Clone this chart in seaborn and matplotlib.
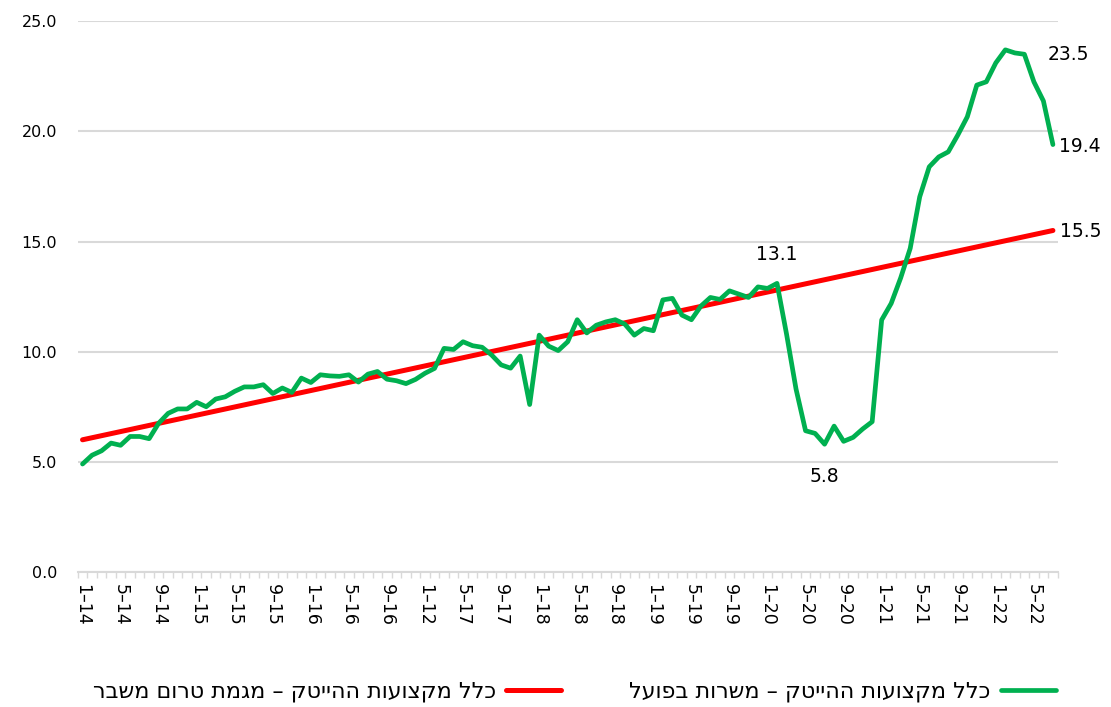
import matplotlib
matplotlib.use('Agg')
import matplotlib.pyplot as plt
import seaborn as sns
import pandas as pd
from matplotlib.ticker import FixedLocator

# Style
sns.set_theme(style='white')
plt.rcParams['font.family'] = ['DejaVu Sans']

# Monthly categories: 1–14 .. 7–22
months = [f'{m}–{y}' for y in range(14, 23) for m in range(1, 13)][:103]

# High-tech jobs, actual (thousands)
actual_jobs = [
    4.9, 5.3, 5.5, 5.85, 5.75, 6.15, 6.15, 6.05, 6.75, 7.2,
    7.4, 7.4, 7.7, 7.5, 7.85, 7.95, 8.2, 8.4, 8.4, 8.5,
    8.1, 8.35, 8.15, 8.8, 8.6, 8.95, 8.9, 8.88, 8.95, 8.62,
    8.98, 9.1, 8.75, 8.68, 8.55, 8.74, 9.02, 9.24, 10.15, 10.1,
    10.45, 10.27, 10.2, 9.85, 9.4, 9.25, 9.8, 7.6, 10.75, 10.25,
    10.05, 10.45, 11.45, 10.85, 11.2, 11.35, 11.45, 11.25, 10.75, 11.05,
    10.95, 12.35, 12.42, 11.66, 11.45, 12.07, 12.46, 12.37, 12.76, 12.61,
    12.46, 12.94, 12.87, 13.1, 10.8, 8.3, 6.41, 6.29, 5.8, 6.62,
    5.93, 6.11, 6.49, 6.82, 11.44, 12.19, 13.35, 14.69, 17.03, 18.39,
    18.84, 19.07, 19.83, 20.66, 22.1, 22.25, 23.11, 23.7, 23.56, 23.5,
    22.25, 21.38, 19.4,
]

# Pre-crisis trend (straight line between its end points)
trend_months = ['1–14', '7–22']
trend_values = [6.0, 15.5]

# x tick labels, every 4 months (as printed in the source)
tick_labels = ['1–14', '5–14', '9–14', '1–15', '5–15', '9–15', '1–16', '5–16',
               '9–16', '1–12', '5–17', '9–17', '1–18', '5–18', '9–18', '1–19',
               '5–19', '9–19', '1–20', '5–20', '9–20', '1–21', '5–21', '9–21',
               '1–22', '5–22']

label_actual = 'כלל מקצועות ההייטק – משרות בפועל'
label_trend = 'כלל מקצועות ההייטק – מגמת טרום משבר'

# point labels: (month, series, offset in points, alignment)
point_labels = [
    ('2–20', 'actual', (0, 21), 'center'),
    ('7–20', 'actual', (0, -23), 'center'),
    ('4–22', 'actual', (17, 0), 'left'),
    ('7–22', 'actual', (4.5, -1.5), 'left'),
    ('7–22', 'trend', (5, -1), 'left'),
]

GREEN = '#00b050'
RED = '#ff0000'
GRID = '#d9d9d9'


def rtl(s):
    # matplotlib has no bidi support, so lay Hebrew out visually
    return s[::-1]


df_actual = pd.DataFrame({'x': range(len(months)), 'value': actual_jobs})
df_trend = pd.DataFrame({'x': [months.index(m) for m in trend_months], 'value': trend_values})

fig = plt.figure(figsize=(11.11, 7.07), dpi=100)
ax = fig.add_axes([0.070, 0.191, 0.882, 0.779])

sns.lineplot(data=df_trend, x='x', y='value', ax=ax, color=RED, linewidth=3.6,
             label=rtl(label_trend), zorder=3, solid_capstyle='round')
sns.lineplot(data=df_actual, x='x', y='value', ax=ax, color=GREEN, linewidth=3.4,
             label=rtl(label_actual), zorder=4, solid_capstyle='round')

# axes
ax.set_xlim(-0.5, len(months) - 0.5)
ax.set_ylim(0, 25)
ax.set_yticks([0, 5, 10, 15, 20, 25])
ax.set_yticklabels([f'{v:.1f}' for v in [0, 5, 10, 15, 20, 25]], fontsize=11.5, color='#000000')
ax.yaxis.grid(True, color=GRID, linewidth=1.5)
ax.set_axisbelow(True)
ax.tick_params(axis='y', length=0, pad=15)

ax.set_xticks(list(range(0, len(months), 4)))
ax.set_xticklabels(tick_labels, rotation=-90, fontsize=12.5, color='#000000')
ax.xaxis.set_minor_locator(FixedLocator([i - 0.5 for i in range(len(months) + 1)]))
ax.tick_params(axis='x', which='major', length=0, pad=9)
ax.tick_params(axis='x', which='minor', length=4, width=1, color=GRID, bottom=True)
ax.set_xlabel('')
ax.set_ylabel('')

for side in ['left', 'right', 'top']:
    ax.spines[side].set_visible(False)
ax.spines['bottom'].set_color(GRID)
ax.spines['bottom'].set_linewidth(1.5)

# point labels
series = {'actual': (list(range(len(months))), actual_jobs),
          'trend': ([months.index(m) for m in trend_months], trend_values)}
for month, name, offset, ha in point_labels:
    xs, vals = series[name]
    idx = months.index(month)
    val = vals[xs.index(idx)]
    ax.annotate(f'{val:.1f}', xy=(idx, val), xytext=offset, textcoords='offset points',
                ha=ha, va='center', fontsize=13.5, color='#000000', zorder=5)

# legend, line sample to the right of the text (RTL)
handles, labels = ax.get_legend_handles_labels()
ax.legend(handles, labels, ncol=2, markerfirst=False, frameon=False,
          loc='center', bbox_to_anchor=(0.517, 0.021), bbox_transform=fig.transFigure,
          fontsize=16, handlelength=2.47, handletextpad=0.45, columnspacing=3.06,
          labelcolor='#000000')

fig.savefig('out.png', dpi=100)
